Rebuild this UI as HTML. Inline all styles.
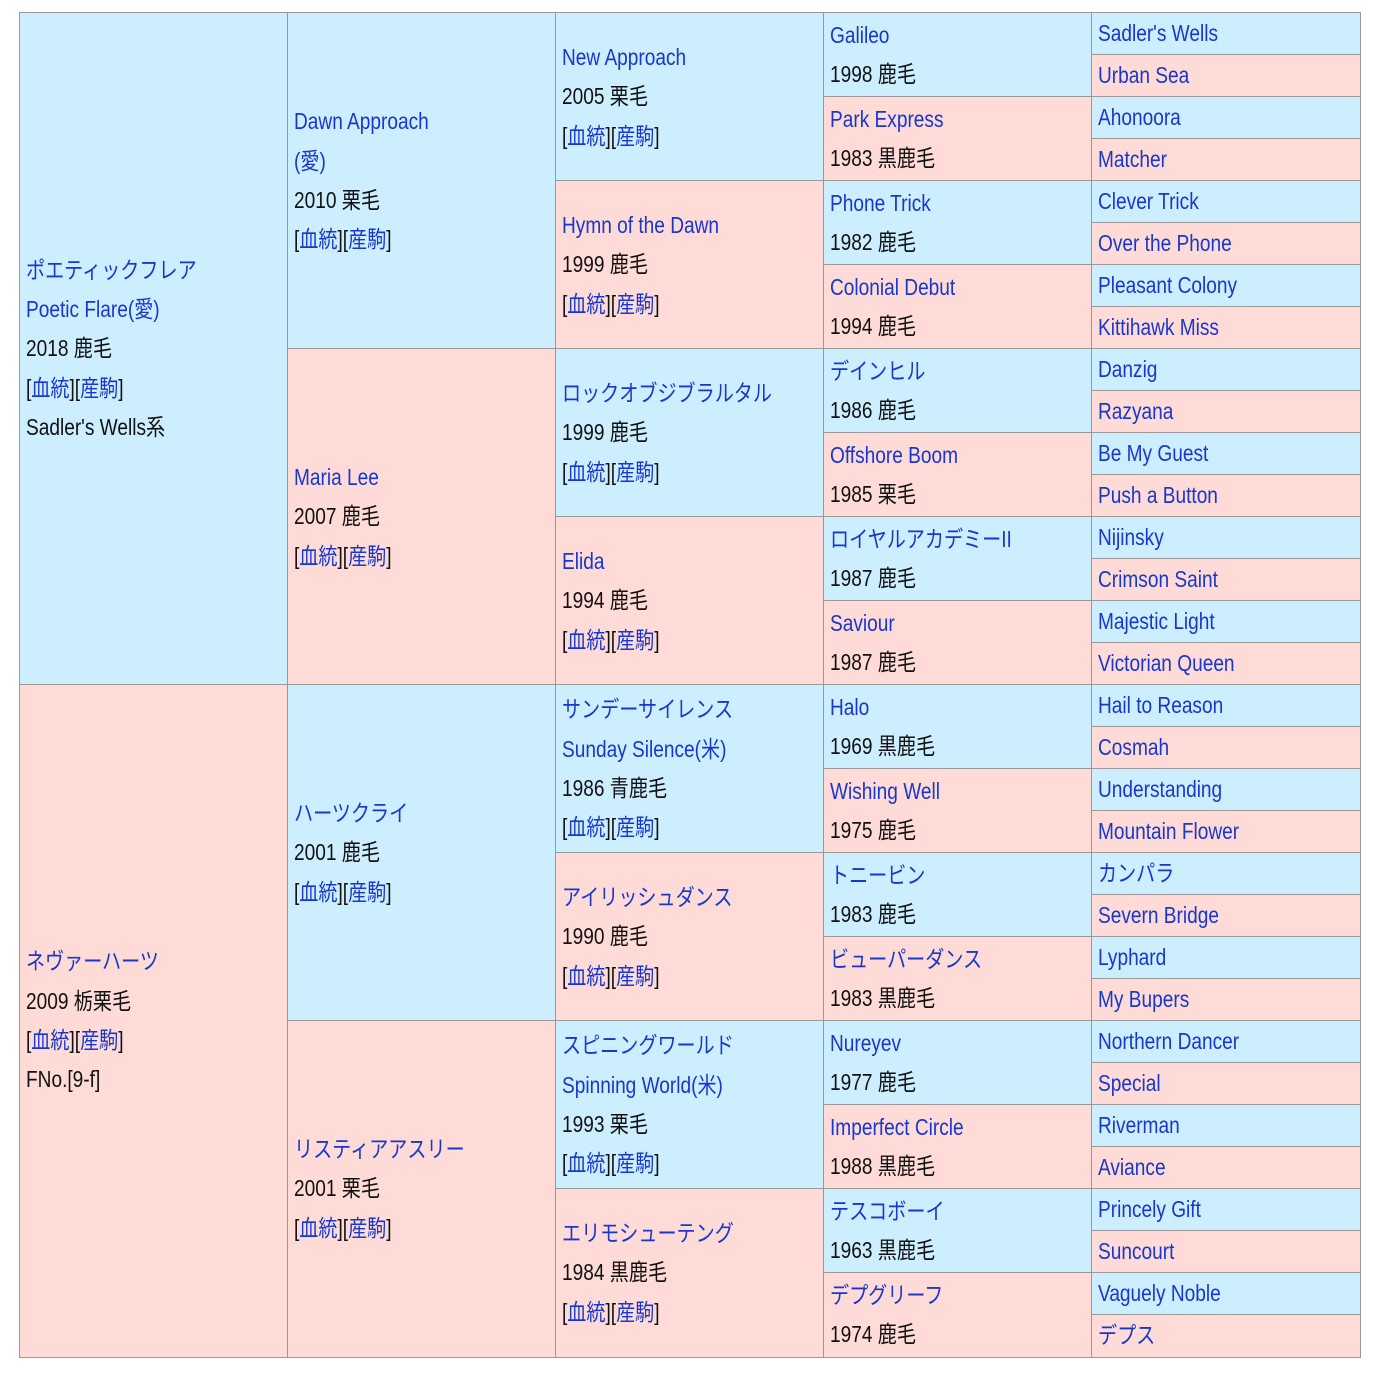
<!DOCTYPE html>
<html><head><meta charset="utf-8"><style>
body{margin:0;background:#fff;width:1380px;height:1380px;position:relative;overflow:hidden}
#t{position:absolute;left:19px;top:12px;width:1343px;height:1347px}
.c{position:absolute;width:270px;box-sizing:border-box;border:1px solid #999;display:flex;align-items:center;padding-left:6px;overflow:hidden}
.b{background:#cdeeff}.p{background:#fedbd7}
.x{font-family:"Liberation Sans","Noto Sans CJK JP",sans-serif;font-size:23px;line-height:39.3px;color:#111;white-space:nowrap;transform:scaleX(0.83);transform-origin:left center}
a{color:#1737cf;text-decoration:none}
</style></head><body><div id="t">
<div class="c b" style="left:0px;top:0px;height:674px"><div class="x"><a>ポエティックフレア</a><br><a>Poetic Flare(愛)</a><br>2018 鹿毛<br>[<a>血統</a>][<a>産駒</a>]<br>Sadler's Wells系</div></div>
<div class="c p" style="left:0px;top:672px;height:674px"><div class="x"><a>ネヴァーハーツ</a><br>2009 栃栗毛<br>[<a>血統</a>][<a>産駒</a>]<br>FNo.[9-f]</div></div>
<div class="c b" style="left:268px;top:0px;height:338px"><div class="x"><a>Dawn Approach</a><br><a>(愛)</a><br>2010 栗毛<br>[<a>血統</a>][<a>産駒</a>]</div></div>
<div class="c p" style="left:268px;top:336px;height:338px"><div class="x"><a>Maria Lee</a><br>2007 鹿毛<br>[<a>血統</a>][<a>産駒</a>]</div></div>
<div class="c b" style="left:268px;top:672px;height:338px"><div class="x"><a>ハーツクライ</a><br>2001 鹿毛<br>[<a>血統</a>][<a>産駒</a>]</div></div>
<div class="c p" style="left:268px;top:1008px;height:338px"><div class="x"><a>リスティアアスリー</a><br>2001 栗毛<br>[<a>血統</a>][<a>産駒</a>]</div></div>
<div class="c b" style="left:536px;top:0px;height:170px"><div class="x"><a>New Approach</a><br>2005 栗毛<br>[<a>血統</a>][<a>産駒</a>]</div></div>
<div class="c p" style="left:536px;top:168px;height:170px"><div class="x"><a>Hymn of the Dawn</a><br>1999 鹿毛<br>[<a>血統</a>][<a>産駒</a>]</div></div>
<div class="c b" style="left:536px;top:336px;height:170px"><div class="x"><a>ロックオブジブラルタル</a><br>1999 鹿毛<br>[<a>血統</a>][<a>産駒</a>]</div></div>
<div class="c p" style="left:536px;top:504px;height:170px"><div class="x"><a>Elida</a><br>1994 鹿毛<br>[<a>血統</a>][<a>産駒</a>]</div></div>
<div class="c b" style="left:536px;top:672px;height:170px"><div class="x"><a>サンデーサイレンス</a><br><a>Sunday Silence(米)</a><br>1986 青鹿毛<br>[<a>血統</a>][<a>産駒</a>]</div></div>
<div class="c p" style="left:536px;top:840px;height:170px"><div class="x"><a>アイリッシュダンス</a><br>1990 鹿毛<br>[<a>血統</a>][<a>産駒</a>]</div></div>
<div class="c b" style="left:536px;top:1008px;height:170px"><div class="x"><a>スピニングワールド</a><br><a>Spinning World(米)</a><br>1993 栗毛<br>[<a>血統</a>][<a>産駒</a>]</div></div>
<div class="c p" style="left:536px;top:1176px;height:170px"><div class="x"><a>エリモシューテング</a><br>1984 黒鹿毛<br>[<a>血統</a>][<a>産駒</a>]</div></div>
<div class="c b" style="left:804px;top:0px;height:86px"><div class="x"><a>Galileo</a><br>1998 鹿毛</div></div>
<div class="c p" style="left:804px;top:84px;height:86px"><div class="x"><a>Park Express</a><br>1983 黒鹿毛</div></div>
<div class="c b" style="left:804px;top:168px;height:86px"><div class="x"><a>Phone Trick</a><br>1982 鹿毛</div></div>
<div class="c p" style="left:804px;top:252px;height:86px"><div class="x"><a>Colonial Debut</a><br>1994 鹿毛</div></div>
<div class="c b" style="left:804px;top:336px;height:86px"><div class="x"><a>デインヒル</a><br>1986 鹿毛</div></div>
<div class="c p" style="left:804px;top:420px;height:86px"><div class="x"><a>Offshore Boom</a><br>1985 栗毛</div></div>
<div class="c b" style="left:804px;top:504px;height:86px"><div class="x"><a>ロイヤルアカデミーII</a><br>1987 鹿毛</div></div>
<div class="c p" style="left:804px;top:588px;height:86px"><div class="x"><a>Saviour</a><br>1987 鹿毛</div></div>
<div class="c b" style="left:804px;top:672px;height:86px"><div class="x"><a>Halo</a><br>1969 黒鹿毛</div></div>
<div class="c p" style="left:804px;top:756px;height:86px"><div class="x"><a>Wishing Well</a><br>1975 鹿毛</div></div>
<div class="c b" style="left:804px;top:840px;height:86px"><div class="x"><a>トニービン</a><br>1983 鹿毛</div></div>
<div class="c p" style="left:804px;top:924px;height:86px"><div class="x"><a>ビューパーダンス</a><br>1983 黒鹿毛</div></div>
<div class="c b" style="left:804px;top:1008px;height:86px"><div class="x"><a>Nureyev</a><br>1977 鹿毛</div></div>
<div class="c p" style="left:804px;top:1092px;height:86px"><div class="x"><a>Imperfect Circle</a><br>1988 黒鹿毛</div></div>
<div class="c b" style="left:804px;top:1176px;height:86px"><div class="x"><a>テスコボーイ</a><br>1963 黒鹿毛</div></div>
<div class="c p" style="left:804px;top:1260px;height:86px"><div class="x"><a>デプグリーフ</a><br>1974 鹿毛</div></div>
<div class="c b" style="left:1072px;top:0px;height:44px"><div class="x"><a>Sadler's Wells</a></div></div>
<div class="c p" style="left:1072px;top:42px;height:44px"><div class="x"><a>Urban Sea</a></div></div>
<div class="c b" style="left:1072px;top:84px;height:44px"><div class="x"><a>Ahonoora</a></div></div>
<div class="c p" style="left:1072px;top:126px;height:44px"><div class="x"><a>Matcher</a></div></div>
<div class="c b" style="left:1072px;top:168px;height:44px"><div class="x"><a>Clever Trick</a></div></div>
<div class="c p" style="left:1072px;top:210px;height:44px"><div class="x"><a>Over the Phone</a></div></div>
<div class="c b" style="left:1072px;top:252px;height:44px"><div class="x"><a>Pleasant Colony</a></div></div>
<div class="c p" style="left:1072px;top:294px;height:44px"><div class="x"><a>Kittihawk Miss</a></div></div>
<div class="c b" style="left:1072px;top:336px;height:44px"><div class="x"><a>Danzig</a></div></div>
<div class="c p" style="left:1072px;top:378px;height:44px"><div class="x"><a>Razyana</a></div></div>
<div class="c b" style="left:1072px;top:420px;height:44px"><div class="x"><a>Be My Guest</a></div></div>
<div class="c p" style="left:1072px;top:462px;height:44px"><div class="x"><a>Push a Button</a></div></div>
<div class="c b" style="left:1072px;top:504px;height:44px"><div class="x"><a>Nijinsky</a></div></div>
<div class="c p" style="left:1072px;top:546px;height:44px"><div class="x"><a>Crimson Saint</a></div></div>
<div class="c b" style="left:1072px;top:588px;height:44px"><div class="x"><a>Majestic Light</a></div></div>
<div class="c p" style="left:1072px;top:630px;height:44px"><div class="x"><a>Victorian Queen</a></div></div>
<div class="c b" style="left:1072px;top:672px;height:44px"><div class="x"><a>Hail to Reason</a></div></div>
<div class="c p" style="left:1072px;top:714px;height:44px"><div class="x"><a>Cosmah</a></div></div>
<div class="c b" style="left:1072px;top:756px;height:44px"><div class="x"><a>Understanding</a></div></div>
<div class="c p" style="left:1072px;top:798px;height:44px"><div class="x"><a>Mountain Flower</a></div></div>
<div class="c b" style="left:1072px;top:840px;height:44px"><div class="x"><a>カンパラ</a></div></div>
<div class="c p" style="left:1072px;top:882px;height:44px"><div class="x"><a>Severn Bridge</a></div></div>
<div class="c b" style="left:1072px;top:924px;height:44px"><div class="x"><a>Lyphard</a></div></div>
<div class="c p" style="left:1072px;top:966px;height:44px"><div class="x"><a>My Bupers</a></div></div>
<div class="c b" style="left:1072px;top:1008px;height:44px"><div class="x"><a>Northern Dancer</a></div></div>
<div class="c p" style="left:1072px;top:1050px;height:44px"><div class="x"><a>Special</a></div></div>
<div class="c b" style="left:1072px;top:1092px;height:44px"><div class="x"><a>Riverman</a></div></div>
<div class="c p" style="left:1072px;top:1134px;height:44px"><div class="x"><a>Aviance</a></div></div>
<div class="c b" style="left:1072px;top:1176px;height:44px"><div class="x"><a>Princely Gift</a></div></div>
<div class="c p" style="left:1072px;top:1218px;height:44px"><div class="x"><a>Suncourt</a></div></div>
<div class="c b" style="left:1072px;top:1260px;height:44px"><div class="x"><a>Vaguely Noble</a></div></div>
<div class="c p" style="left:1072px;top:1302px;height:44px"><div class="x"><a>デプス</a></div></div>
</div></body></html>
